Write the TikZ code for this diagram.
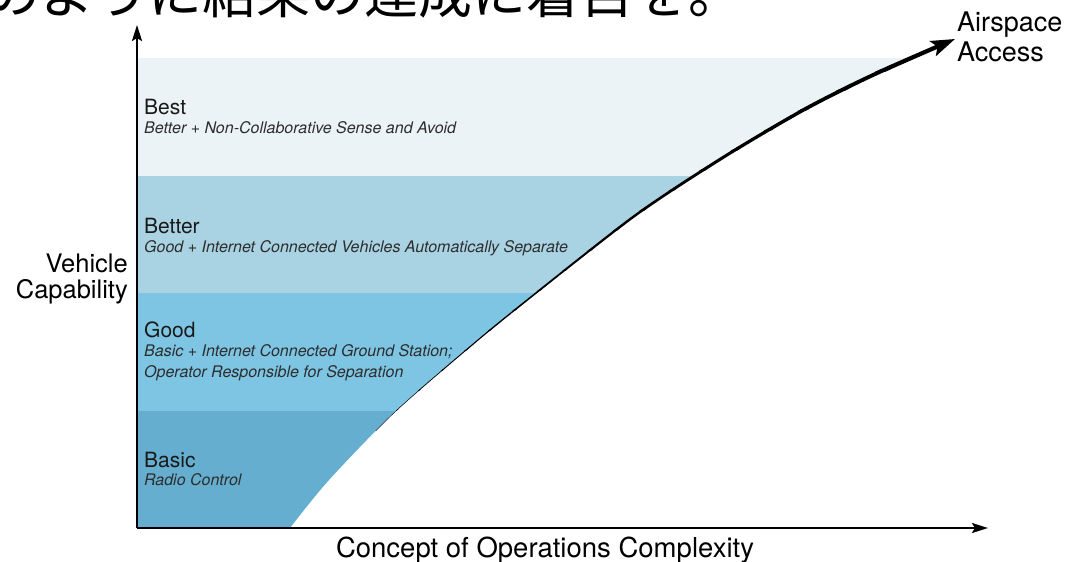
\documentclass[tikz,border=0pt]{standalone}
\usepackage{fontspec}
\setmainfont{TeX Gyre Heros}
\newfontfamily\jpfont{Noto Sans CJK JP}
\usetikzlibrary{arrows.meta}
\definecolor{bestc}{RGB}{235,243,247}
\definecolor{betterc}{RGB}{169,211,227}
\definecolor{goodc}{RGB}{126,197,228}
\definecolor{basicc}{RGB}{101,174,207}
\definecolor{titlec}{RGB}{25,25,25}
\definecolor{subc}{RGB}{45,45,45}
\begin{document}
\begin{tikzpicture}[x=1pt,y=-1pt,
  axis/.style={line width=2.6pt,-{Stealth[length=16pt,width=10pt,inset=3pt]}},
  bandtitle/.style={anchor=base west,inner sep=0pt,text=titlec,font=\fontsize{21}{25}\selectfont},
  bandsub/.style={anchor=base west,inner sep=0pt,text=subc,align=left,font=\fontsize{16}{20.7}\selectfont\itshape},
  axislabel/.style={inner sep=0pt,text=black,font=\fontsize{25.5}{26}\selectfont},
  curveins/.style={insert path={-- plot[smooth,tension=0.5] coordinates {(290,528) (329,480) (396,411) (478,340) (536,293) (603,240) (640,212) (683,183) (740,147) (807,108) (873,75) (955,39)}}}]
\useasboundingbox (0,0) rectangle (1066,562);
% heading text (cut off)
\node[anchor=base west,inner sep=0pt,font=\fontsize{54}{60}\selectfont\jpfont] (jp) at (-14,13) {のように結果の達成に着目を。};
% coordinates
\coordinate (O) at (137,528);
\coordinate (ytip) at (137,25);
\coordinate (xtip) at (988,528);
\coordinate (cstart) at (290,528);
% bands clipped to left of curve
\begin{scope}
  \clip (O) -- (cstart) [curveins] -- (137,39) -- cycle;
  \fill[basicc] (137,528) rectangle (1066,411);
  \fill[goodc] (137,411) rectangle (1066,293);
  \fill[betterc] (137,293) rectangle (1066,176);
  \fill[bestc] (137,176) rectangle (1066,58);
\end{scope}
% tapered curve
\foreach \i in {0,...,17} {
  \pgfmathsetmacro\ybot{430-20*\i+0.5}
  \pgfmathsetmacro\ytop{430-20*(\i+1)-0.5}
  \pgfmathsetmacro\wid{0.3+0.21*\i}
  \begin{scope}
    \clip (0,\ybot) rectangle (1066,\ytop);
    \draw[line width=\wid pt,line cap=round] (cstart) [curveins];
  \end{scope}
}
\begin{scope}
  \clip (0,71) rectangle (1066,0);
  \draw[line width=4.2pt,-{Stealth[length=24pt,width=16pt,inset=5pt]}] (cstart) [curveins];
\end{scope}
% axes
\draw[axis] (O) -- (ytip);
\draw[axis] (O) -- (xtip);
% band texts
\node[bandtitle] (best) at (144,114) {Best};
\node[bandsub] (bestsub) at (144,133) {Better + Non-Collaborative Sense and Avoid};
\node[bandtitle] (better) at (144,233) {Better};
\node[bandsub] (bettersub) at (144,252) {Good + Internet Connected Vehicles Automatically Separate};
\node[bandtitle] (good) at (144,337) {Good};
\node[bandsub] (goodsub) at (144,377) {Basic + Internet Connected Ground Station;\\Operator Responsible for Separation};
\node[bandtitle] (basic) at (144,467) {Basic};
\node[bandsub] (basicsub) at (144,485) {Radio Control};
% axis labels
\node[axislabel,anchor=base east,align=right] (ylab) at (128,298) {Vehicle\\Capability};
\node[axislabel,anchor=base west,align=left,font=\fontsize{27}{30}\selectfont] (tiplab) at (957,61) {Airspace\\Access};
\node[axislabel,anchor=base,font=\fontsize{27.5}{30}\selectfont] (xlab) at (545,557) {Concept of Operations Complexity};
\end{tikzpicture}
\end{document}
